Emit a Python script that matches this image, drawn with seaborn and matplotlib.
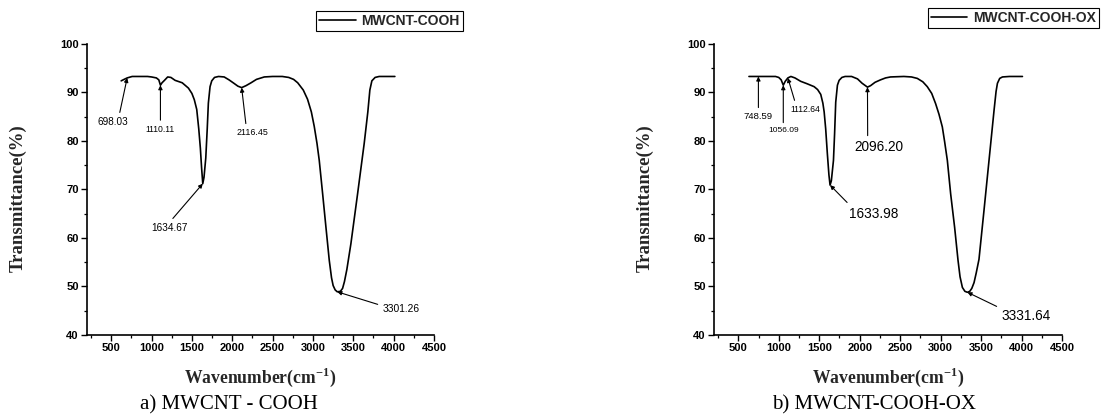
import matplotlib
matplotlib.use("Agg")
import matplotlib.pyplot as plt
import pandas as pd
import seaborn as sns
from matplotlib.ticker import MultipleLocator

sns.set_theme(style="ticks")
plt.rcParams["font.family"] = ["Liberation Sans", "DejaVu Sans"]
plt.rcParams["mathtext.fontset"] = "custom"
plt.rcParams["mathtext.rm"] = "Liberation Serif"
plt.rcParams["mathtext.bf"] = "Liberation Serif:bold"

# FTIR spectrum of MWCNT-COOH
wn_cooh = [624, 660, 698.03, 760, 850, 950, 1000, 1060, 1090, 1110.11, 1130, 1160,
           1200, 1240, 1292, 1380, 1457, 1500, 1530, 1560, 1585, 1605, 1620, 1634.67,
           1650, 1672, 1690, 1704, 1725, 1746, 1780, 1830, 1900, 1960, 2020, 2070,
           2116.45, 2170, 2233, 2300, 2397, 2500, 2620, 2700, 2760, 2811, 2880, 2933,
           2980, 3016, 3050, 3078, 3120, 3161, 3202, 3230, 3250, 3275, 3301.26, 3340,
           3367, 3390, 3420, 3470, 3553, 3635, 3680, 3705, 3730, 3770, 3820, 3900, 4015]
t_cooh = [92.4, 92.7, 93.0, 93.3, 93.3, 93.3, 93.2, 93.0, 92.6, 91.5, 92.0, 92.5,
          93.2, 93.1, 92.5, 92.0, 90.9, 89.8, 88.5, 86.5, 82.5, 78.5, 74.5, 71.2,
          72.5, 76.5, 82.5, 87.8, 91.2, 92.4, 93.1, 93.3, 93.2, 92.6, 91.9, 91.3,
          91.0, 91.4, 92.0, 92.7, 93.2, 93.3, 93.3, 93.1, 92.7, 92.0, 90.5, 88.6,
          86.0, 83.0, 79.5, 76.0, 69.1, 62.2, 55.4, 51.8, 50.2, 49.3, 48.9, 49.0,
          49.6, 51.0, 53.5, 58.8, 69.1, 79.5, 86.0, 90.5, 92.4, 93.1, 93.3, 93.3, 93.3]

# FTIR spectrum of MWCNT-COOH-OX
wn_ox = [632, 700, 748.59, 850, 960, 1000, 1030, 1056.09, 1080, 1112.64, 1150, 1200,
         1271, 1350, 1437, 1480, 1519, 1545, 1561, 1580, 1600, 1620, 1633.98, 1650,
         1676, 1690, 1704, 1725, 1746, 1780, 1820, 1900, 1973, 2030, 2096.20, 2134,
         2190, 2257, 2320, 2381, 2546, 2640, 2712, 2780, 2835, 2890, 2938, 2980,
         3021, 3050, 3083, 3124, 3173, 3215, 3240, 3269, 3300, 3331.64, 3360, 3385,
         3413, 3440, 3474, 3536, 3598, 3660, 3685, 3702, 3730, 3764, 3850, 4011]
t_ox = [93.3, 93.3, 93.3, 93.3, 93.3, 93.1, 92.6, 91.5, 92.3, 93.0, 93.3, 93.0,
        92.3, 91.8, 91.2, 90.6, 89.6, 87.8, 86.0, 82.5, 77.5, 73.0, 70.9, 71.8,
        76.0, 81.5, 88.0, 91.5, 92.5, 93.1, 93.3, 93.3, 92.8, 91.9, 91.1, 91.4,
        92.1, 92.6, 93.0, 93.2, 93.3, 93.2, 92.9, 92.2, 91.2, 89.8, 87.7, 85.5,
        82.9, 79.8, 76.0, 69.1, 62.2, 55.4, 52.0, 49.8, 49.0, 48.8, 49.0, 49.6,
        50.8, 52.8, 55.6, 65.7, 76.0, 86.3, 90.2, 91.9, 92.9, 93.2, 93.3, 93.3]

# Peak labels: (label wavenumber, transmittance at peak, text x, text y, font size, arrow anchor on text)
peaks_cooh = [
    (698.03, 93.0, 518, 83.9, 7.2, (0.7, 1.0)),
    (1110.11, 91.5, 1110.11, 82.4, 6.2, (0.5, 1.0)),
    (1634.67, 71.2, 1218, 62.1, 7.2, (0.5, 1.0)),
    (2116.45, 91.0, 2254, 81.7, 6.4, (0.3, 1.0)),
    (3301.26, 48.9, 4089, 45.4, 7.4, (0.0, 0.8)),
]
peaks_ox = [
    (748.59, 93.3, 748.59, 85.0, 6.8, (0.5, 1.0)),
    (1056.09, 91.5, 1056.09, 82.1, 6.0, (0.5, 1.0)),
    (1112.64, 93.0, 1323, 86.5, 6.2, (0.2, 1.0)),
    (1633.98, 70.9, 2171, 65.0, 9.8, (0.05, 1.0)),
    (2096.20, 91.1, 2232, 78.7, 9.8, (0.28, 1.0)),
    (3331.64, 48.8, 4052, 44.0, 9.8, (0.0, 1.0)),
]

x_ticks = [500, 1000, 1500, 2000, 2500, 3000, 3500, 4000, 4500]
y_ticks = [40, 50, 60, 70, 80, 90, 100]

fig = plt.figure(figsize=(11.01, 4.18), dpi=100)
ax_a = fig.add_axes([0.0790, 0.1986, 0.3152, 0.6962])
ax_b = fig.add_axes([0.6485, 0.1986, 0.3161, 0.6962])


def draw_panel(ax, wn, t, name, peaks, legend_loc, legend_x, legend_y):
    df = pd.DataFrame({"Wavenumber": wn, "Transmittance": t})
    sns.lineplot(data=df, x="Wavenumber", y="Transmittance", ax=ax, color="black",
                 linewidth=1.2, sort=False, label=name, estimator=None)
    ax.set_xlim(200, 4500)
    ax.set_ylim(40, 100)
    ax.set_xticks(x_ticks)
    ax.set_yticks(y_ticks)
    ax.xaxis.set_minor_locator(MultipleLocator(250))
    ax.yaxis.set_minor_locator(MultipleLocator(5))
    for side in ("top", "right"):
        ax.spines[side].set_visible(False)
    for side in ("left", "bottom"):
        ax.spines[side].set_linewidth(1.2)
        ax.spines[side].set_color("black")
    ax.tick_params(which="major", direction="out", length=4, width=1.0,
                   labelsize=8, pad=2, colors="black")
    ax.tick_params(which="minor", direction="out", length=2.5, width=0.9, colors="black")
    for lab in ax.get_xticklabels() + ax.get_yticklabels():
        lab.set_fontweight("bold")
    ax.set_xlabel(r"Wavenumber(cm$^{\mathbf{-1}}$)",
                  fontdict=dict(family="Liberation Serif", weight="bold", size=12.7))
    ax.set_ylabel("Transmittance(%)",
                  fontdict=dict(family="Liberation Serif", weight="bold", size=13.5))
    ax.xaxis.set_label_coords(0.5, -0.145)
    ax.xaxis.label.set_va("center")
    ax.yaxis.set_label_coords(-0.199, 0.47)
    ax.yaxis.label.set_va("center")
    ax.grid(False)
    for x, y, tx, ty, fs, rel in peaks:
        ax.annotate(f"{x:.2f}", xy=(x, y), xytext=(tx, ty), ha="center", va="center",
                    fontsize=fs, color="black",
                    arrowprops=dict(arrowstyle="-|>", color="black", lw=0.8,
                                    mutation_scale=6, shrinkA=1, shrinkB=0,
                                    relpos=rel))
    leg = ax.legend(loc=legend_loc, bbox_to_anchor=(legend_x, legend_y),
                    bbox_transform=fig.transFigure, frameon=True, fancybox=False,
                    edgecolor="black", framealpha=1, handlelength=2.6,
                    borderpad=0.25, handletextpad=0.4, borderaxespad=0,
                    prop=dict(size=10, weight="bold"))
    leg.get_frame().set_linewidth(0.8)


draw_panel(ax_a, wn_cooh, t_cooh, "MWCNT-COOH", peaks_cooh,
           "center left", 316 / 1101, 1 - 21 / 418)
draw_panel(ax_b, wn_ox, t_ox, "MWCNT-COOH-OX", peaks_ox,
           "center right", 1099 / 1101, 1 - 18 / 418)

caption = dict(family="Liberation Serif", size=15, ha="center", va="center", color="black")
fig.text(229 / 1101, 1 - 405 / 418, "a) MWCNT - COOH", **caption)
fig.text(874 / 1101, 1 - 405 / 418, "b) MWCNT-COOH-OX", **caption)

fig.savefig("out.png", dpi=100, facecolor="white")
